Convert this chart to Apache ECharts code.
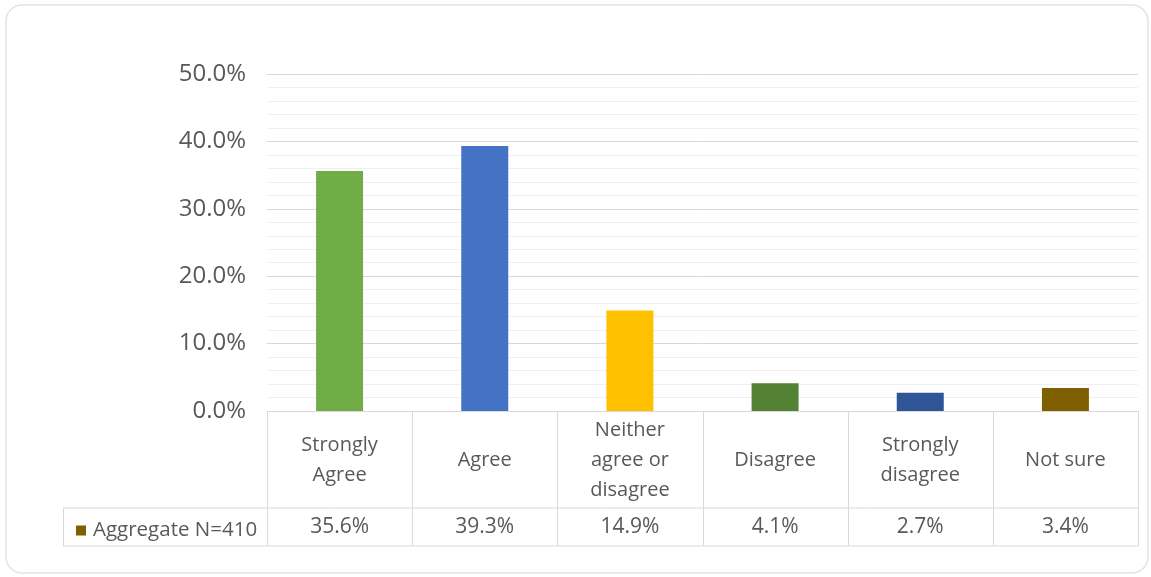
<!DOCTYPE html>
<html><head><meta charset="utf-8">
<script src="https://cdn.jsdelivr.net/npm/echarts@6/dist/echarts.min.js"></script>
<style>html,body{margin:0;padding:0;background:#fff;}#c{width:1151px;height:577px;}</style>
</head><body><div id="c"></div>
<script>
var categories = ['Strongly\nAgree', 'Agree', 'Neither\nagree or\ndisagree', 'Disagree', 'Strongly\ndisagree', 'Not sure'];
var values = [35.6, 39.3, 14.9, 4.1, 2.7, 3.4];
var barColors = ['#70ad47', '#4472c4', '#ffc000', '#548235', '#2f5597', '#7f6000'];
var seriesName = 'Aggregate N=410';
var yTicks = [0, 10, 20, 30, 40, 50];

var FONT = '"Open Sans", "Noto Sans", sans-serif';
var TXT = '#595959';
var LINE = '#d9d9d9';

var chart = echarts.init(document.getElementById('c'));
var option = {
  animation: false,
  textStyle: { fontFamily: FONT },
  grid: { left: 267, right: 13, top: 74, bottom: 166 },
  legend: {
    data: [seriesName], left: 71, top: 515, icon: 'rect', itemWidth: 10, itemHeight: 10, itemGap: 4,
    textStyle: { color: TXT, fontSize: 20.5, fontFamily: FONT, padding: [0, 0, 0, 2] }, selectedMode: false
  },
  xAxis: [{
    type: 'category', data: categories,
    axisLine: { show: true, lineStyle: { color: LINE } }, axisTick: { show: false },
    axisLabel: { color: TXT, fontSize: 20, lineHeight: 30, margin: 49, verticalAlign: 'middle', align: 'center', interval: 0, fontFamily: FONT }
  }, {
    type: 'category', data: categories, position: 'bottom', offset: 0,
    axisLine: { show: false }, axisTick: { show: false },
    axisLabel: { color: TXT, fontSize: 21, margin: 116, verticalAlign: 'middle', interval: 0, fontFamily: FONT,
      formatter: function (v, i) { return values[i].toFixed(1) + '%'; } }
  }],
  yAxis: {
    type: 'value', min: yTicks[0], max: yTicks[yTicks.length - 1], interval: 10,
    axisLine: { show: false }, axisTick: { show: false },
    axisLabel: { color: TXT, fontSize: 24, margin: 21, fontFamily: FONT, formatter: function (v) { return v.toFixed(1) + '%'; } },
    splitLine: { lineStyle: { color: LINE } },
    minorTick: { show: false, splitNumber: 5 },
    minorSplitLine: { show: true, lineStyle: { color: '#f0f0f0' } }
  },
  series: [{
    name: seriesName, type: 'bar', barWidth: 47, xAxisIndex: 0,
    itemStyle: { color: '#7f6000' },
    data: values.map(function (v, i) { return { value: v, itemStyle: { color: barColors[i] } }; })
  }]
};
chart.setOption(option);

// table lines derived from axis scale
var n = categories.length;
var x0 = chart.convertToPixel({ xAxisIndex: 0 }, 0);
var x1 = chart.convertToPixel({ xAxisIndex: 0 }, 1);
var step = x1 - x0;
var left = x0 - step / 2;
var right = left + step * n;
var yAxisPix = chart.convertToPixel({ yAxisIndex: 0 }, 0);
var rowMid = yAxisPix + 97;
var rowBot = yAxisPix + 135;
var legLeft = 63;
var g = [];
g.push({ type: 'rect', shape: { x: 6, y: 5, width: 1142, height: 568, r: 16 }, style: { fill: 'none', stroke: '#e3e3e3', lineWidth: 1.5 }, silent: true, z: -1 });
for (var i = 0; i <= n; i++) {
  var x = Math.round(left + step * i) + 0.5;
  g.push({ type: 'line', shape: { x1: x, y1: yAxisPix, x2: x, y2: rowBot }, style: { stroke: LINE, lineWidth: 1 }, silent: true });
}
g.push({ type: 'line', shape: { x1: legLeft, y1: rowMid, x2: right, y2: rowMid }, style: { stroke: LINE, lineWidth: 1 }, silent: true });
g.push({ type: 'line', shape: { x1: legLeft, y1: rowBot, x2: right, y2: rowBot }, style: { stroke: LINE, lineWidth: 1 }, silent: true });
g.push({ type: 'line', shape: { x1: legLeft + 0.5, y1: rowMid, x2: legLeft + 0.5, y2: rowBot }, style: { stroke: LINE, lineWidth: 1 }, silent: true });
chart.setOption({ graphic: g });
</script>
</body></html>
